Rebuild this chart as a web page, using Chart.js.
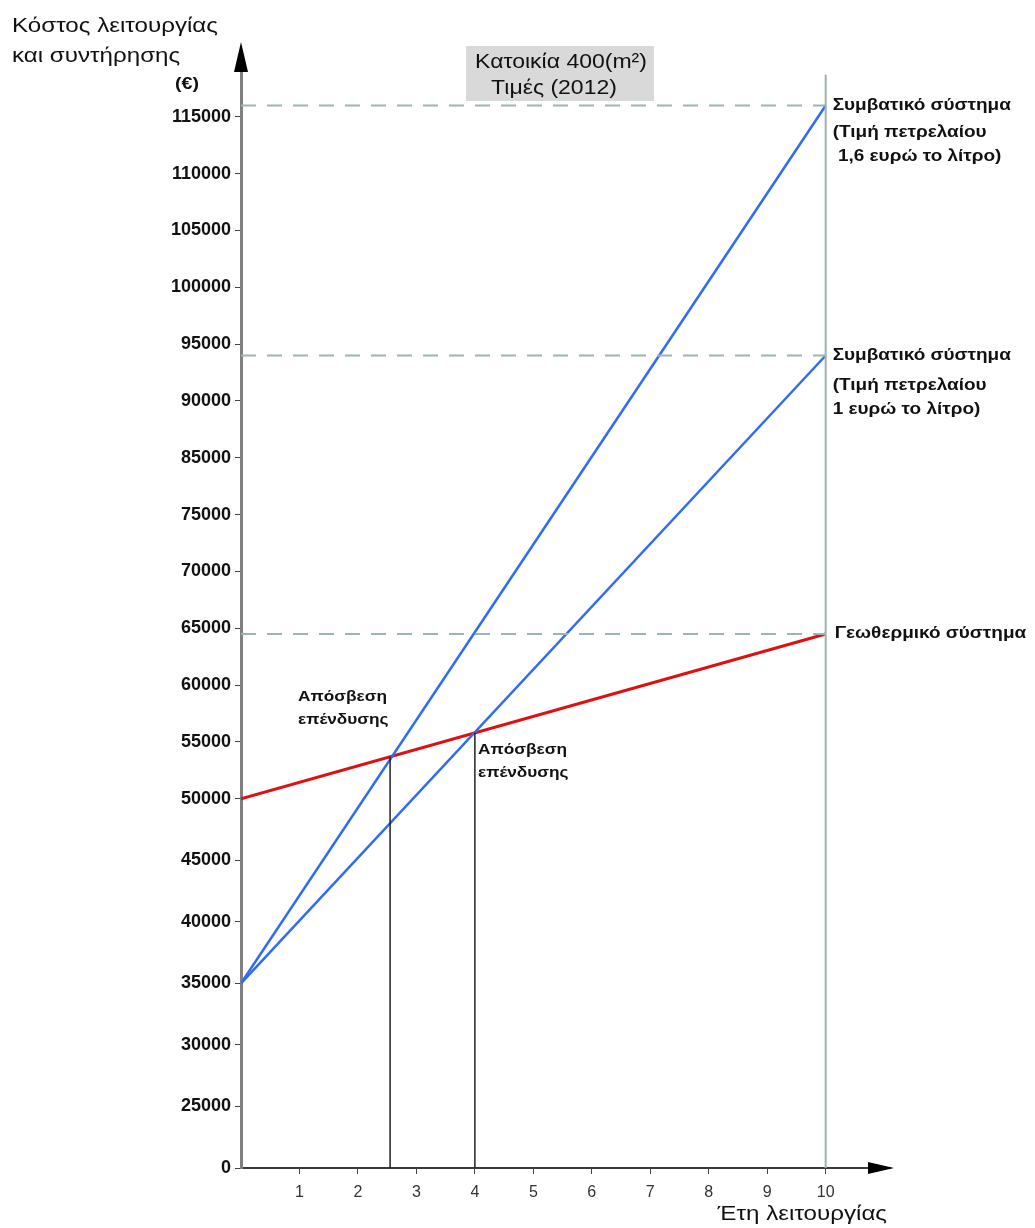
<!DOCTYPE html>
<html>
<head>
<meta charset="utf-8">
<script src="https://cdn.jsdelivr.net/npm/chart.js@4/dist/chart.umd.min.js"></script>
<style>
  html, body { margin: 0; padding: 0; background: #ffffff; }
  #wrap { position: relative; width: 1035px; height: 1228px; }
</style>
</head>
<body>
<div id="wrap"><canvas id="c" width="1035" height="1228"></canvas></div>
<script>
// ---------- data ----------
const years = [0, 10];
const geoCost = [50000, 64500];          // Γεωθερμικό σύστημα
const oil1Cost = [35000, 94000];         // Συμβατικό, 1 €/λίτρο
const oil16Cost = [35000, 116000];       // Συμβατικό, 1,6 €/λίτρο
const paybackYears = [2.55, 4];
const paybackCosts = [53700, 55800];
const refLevels = [116000, 94000, 64500];
const yTickValues = [0, 25000, 30000, 35000, 40000, 45000, 50000, 55000, 60000, 65000,
                     70000, 75000, 85000, 90000, 95000, 100000, 105000, 110000, 115000];
const yTickLabels = ['0', '25000', '30000', '35000', '40000', '45000', '50000', '55000', '60000', '65000',
                     '70000', '75000', '85000', '90000', '95000', '100000', '105000', '110000', '115000'];
const yAxisTop = 120000;
const xTickLabels = ['1', '2', '3', '4', '5', '6', '7', '8', '9', '10'];

// ---------- hand-drawn axis: labelled steps, lower steps drawn slightly wider ----------
const anchors = yTickValues.concat([yAxisTop]);
function toIndex(v) {
  if (v <= anchors[0]) return 0;
  for (let i = 1; i < anchors.length; i++) {
    if (v <= anchors[i]) return (i - 1) + (v - anchors[i - 1]) / (anchors[i] - anchors[i - 1]);
  }
  const n = anchors.length - 1;
  return n + (v - anchors[n]) / (anchors[n] - anchors[n - 1]);
}
class StepLabelScale extends Chart.LinearScale {
  static id = 'steplabel';
  static defaults = { ticks: { callback: (v) => String(v) } };
  determineDataLimits() { this.min = anchors[0]; this.max = anchors[anchors.length - 1]; }
  buildTicks() { return yTickValues.map(v => ({ value: v })); }
  _weights() {
    const n = anchors.length - 1;
    const lw = this.options.lowerStepWeight || 1, ls = this.options.lowerSteps || 0;
    const w = []; for (let i = 0; i < n; i++) w.push(i < ls ? lw : 1);
    const cum = [0]; w.forEach((x, i) => cum.push(cum[i] + x));
    return { w, cum, total: cum[n] };
  }
  getPixelForValue(v) {
    const { w, cum, total } = this._weights();
    const idx = toIndex(v), n = w.length;
    const i = Math.min(Math.max(Math.floor(idx), 0), n - 1);
    return this.getPixelForDecimal((cum[i] + (idx - i) * w[i]) / total);
  }
  getValueForPixel(p) {
    const { w, cum, total } = this._weights();
    const d = this.getDecimalForPixel(p) * total;
    for (let i = 0; i < w.length; i++) {
      if (d <= cum[i + 1]) return anchors[i] + (d - cum[i]) / w[i] * (anchors[i + 1] - anchors[i]);
    }
    return anchors[anchors.length - 1];
  }
}
Chart.register(StepLabelScale);

const BLUE = '#2f6cf2';
const RED = '#dd1111';
const DASH = '#9db4b4';
const FONT = '"Liberation Sans", Arial, sans-serif';
const NARROW = '"Liberation Sans Narrow", "Liberation Sans", Arial, sans-serif';
const STRETCH = 1.15;

function seg(xs, ys) { return xs.map((x, i) => ({ x: x, y: ys[i] })); }

const datasets = [];
refLevels.forEach(v => datasets.push({
  data: seg(years, [v, v]), borderColor: DASH, borderWidth: 2, borderDash: [15, 11], pointRadius: 0
}));
datasets.push({ data: seg([10, 10], [0, 118700]), borderColor: '#9fb0b0', borderWidth: 2, pointRadius: 0 });
paybackYears.forEach((x, i) => datasets.push({
  data: seg([x, x], [0, paybackCosts[i]]), borderColor: '#222', borderWidth: 1.5, pointRadius: 0
}));
datasets.push({ data: seg(years, oil16Cost), borderColor: BLUE, borderWidth: 2.5, pointRadius: 0 });
datasets.push({ data: seg(years, oil1Cost), borderColor: BLUE, borderWidth: 2.5, pointRadius: 0 });
datasets.push({ data: seg(years, geoCost), borderColor: RED, borderWidth: 3, pointRadius: 0 });

function txt(ctx, s, x, y, align) {
  ctx.save();
  ctx.translate(x, y);
  ctx.scale(STRETCH, 1);
  ctx.textAlign = align || 'left';
  ctx.fillText(s, 0, 0);
  ctx.restore();
}

const decor = {
  id: 'decor',
  afterDraw(chart) {
    const ctx = chart.ctx;
    const xs = chart.scales.x, ys = chart.scales.y;
    const ca = chart.chartArea;
    const x0 = xs.getPixelForValue(0), y0 = ys.getPixelForValue(0);
    ctx.save();
    // arrows
    ctx.fillStyle = '#000';
    ctx.beginPath();
    ctx.moveTo(x0, 42); ctx.lineTo(x0 - 7, 72); ctx.lineTo(x0 + 7, 72); ctx.closePath(); ctx.fill();
    ctx.beginPath();
    ctx.moveTo(ca.right + 4, y0); ctx.lineTo(ca.right - 22, y0 - 6); ctx.lineTo(ca.right - 22, y0 + 6); ctx.closePath(); ctx.fill();

    ctx.fillStyle = '#111';
    ctx.textBaseline = 'middle';
    // y title
    ctx.font = '21px ' + FONT;
    txt(ctx, 'Κόστος λειτουργίας', 12, 26);
    txt(ctx, 'και συντήρησης', 12, 56);
    ctx.font = 'bold 17px ' + FONT;
    txt(ctx, '(€)', 175, 84);

    // title box
    ctx.fillStyle = '#d9d9d9';
    ctx.fillRect(466, 46, 188, 55);
    ctx.fillStyle = '#111';
    ctx.font = '20px ' + FONT;
    txt(ctx, 'Κατοικία 400(m²)', 561, 62, 'center');
    txt(ctx, 'Τιμές (2012)', 554, 88, 'center');

    // right labels
    const xr = xs.getPixelForValue(10) + 7;
    ctx.font = 'bold 16.5px ' + FONT;
    let yy = ys.getPixelForValue(oil16Cost[1]);
    txt(ctx, 'Συμβατικό σύστημα', xr, yy);
    txt(ctx, '(Τιμή πετρελαίου', xr, yy + 27);
    txt(ctx, ' 1,6 ευρώ το λίτρο)', xr, yy + 51);
    yy = ys.getPixelForValue(oil1Cost[1]);
    txt(ctx, 'Συμβατικό σύστημα', xr, yy);
    txt(ctx, '(Τιμή πετρελαίου', xr, yy + 30);
    txt(ctx, '1 ευρώ το λίτρο)', xr, yy + 54);
    yy = ys.getPixelForValue(geoCost[1]);
    txt(ctx, 'Γεωθερμικό σύστημα', xr + 2, yy);

    // payback labels
    ctx.font = 'bold 15px ' + FONT;
    txt(ctx, 'Απόσβεση', 298, 697);
    txt(ctx, 'επένδυσης', 298, 720);
    txt(ctx, 'Απόσβεση', 478, 750);
    txt(ctx, 'επένδυσης', 478, 773);

    // x title
    ctx.font = '21px ' + FONT;
    txt(ctx, 'Έτη λειτουργίας', 887, 1214, 'right');
    ctx.restore();
  }
};

new Chart(document.getElementById('c'), {
  type: 'line',
  data: { datasets: datasets },
  plugins: [decor],
  options: {
    responsive: false,
    animation: false,
    events: [],
    layout: { padding: { top: 60, right: 145, left: 0, bottom: 0 } },
    plugins: { legend: { display: false }, tooltip: { enabled: false }, title: { display: false } },
    scales: {
      x: {
        type: 'linear', min: 0, max: 11.1,
        afterFit(s) { s.height = 60; },
        border: { color: '#3a3a3a', width: 2 },
        grid: {
          drawOnChartArea: false, tickLength: 6,
          color: (c) => (c.tick && c.tick.value >= 1 && c.tick.value <= 10 && Number.isInteger(c.tick.value)) ? '#444' : 'rgba(0,0,0,0)'
        },
        ticks: {
          stepSize: 1, autoSkip: false, maxRotation: 0, padding: 9,
          color: '#333', font: { family: NARROW, size: 16 },
          callback: (v) => (Number.isInteger(v) && v >= 1 && v <= 10) ? xTickLabels[v - 1] : ''
        }
      },
      y: {
        type: 'steplabel',
        lowerSteps: 6,
        lowerStepWeight: 1.083,
        afterFit(s) { s.width = 241; },
        border: { color: '#808080', width: 3 },
        grid: { drawOnChartArea: false, tickLength: 6, color: '#444', lineWidth: 1 },
        ticks: {
          padding: 4, color: '#111', font: { family: FONT, size: 18, weight: 'bold' },
          callback: (v) => yTickLabels[yTickValues.indexOf(v)]
        }
      }
    }
  }
});
</script>
</body>
</html>
